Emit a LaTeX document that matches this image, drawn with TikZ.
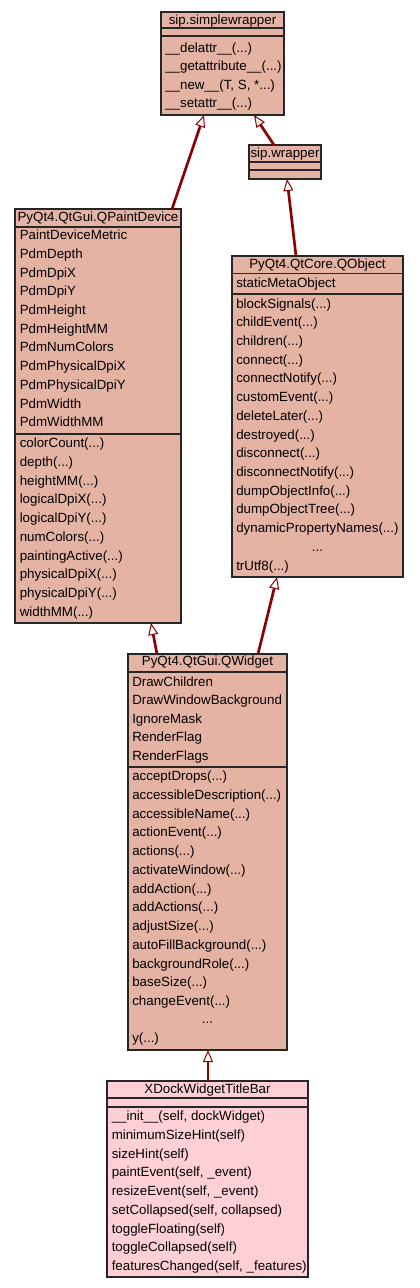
\documentclass[tikz,border=0pt]{standalone}
\usepackage{fontspec}
\setmainfont{Liberation Sans}
\usetikzlibrary{arrows.meta,positioning}
\newlength\px
\setlength\px{0.75pt}
\newcommand\more{...}
\definecolor{classfill}{RGB}{229,179,164}
\definecolor{mainfill}{RGB}{254,208,213}
\definecolor{inheritc}{RGB}{139,0,0}

\begin{document}
\begin{tikzpicture}[x=0.75pt, y=-0.75pt,
    classbox/.style={draw=black!85, line width=0.9pt, fill=classfill,
      inner sep=0pt, outer sep=0pt, anchor=north west},
    sepline/.style={draw=black!85, line width=0.9pt},
    classname/.style={inner sep=0pt, anchor=base},
    member/.style={inner sep=0pt, anchor=base west},
    inherits/.style={draw=inheritc, line width=2pt,
      -{Triangle[fill=white, line width=0.75pt, length=9pt, width=7.5pt]}}]
  \useasboundingbox (0,0) rectangle (419,1288);

  % sip.simplewrapper
  \node[classbox, minimum width=123\px, minimum height=103\px] (sw) at (161,12) {};
  \draw[sepline] (sw.west |- 0,28) -- (sw.east |- 0,28);
  \draw[sepline] (sw.west |- 0,36) -- (sw.east |- 0,36);
  \node[classname] (sw-t) at (sw.north |- 0,24.5) {sip.simplewrapper};
  \foreach \m [count=\i from 0] in {{\_\_delattr\_\_(\more)}, {\_\_getattribute\_\_(\more)},
      {\_\_new\_\_(T, S, *\more)}, {\_\_setattr\_\_(\more)}}
    \node[member] (sw-m\i) at (165,{52.4+18.5*\i}) {\m};

  % sip.wrapper
  \node[classbox, minimum width=72\px, minimum height=34\px] (sipw) at (249,145) {};
  \draw[sepline] (sipw.west |- 0,162) -- (sipw.east |- 0,162);
  \draw[sepline] (sipw.west |- 0,170) -- (sipw.east |- 0,170);
  \node[classname] (sipw-t) at (sipw.north |- 0,157.5) {sip.wrapper};

  % PyQt4.QtGui.QPaintDevice
  \node[classbox, minimum width=166\px, minimum height=414\px] (qpd) at (15,209) {};
  \draw[sepline] (qpd.west |- 0,227) -- (qpd.east |- 0,227);
  \draw[sepline] (qpd.west |- 0,434) -- (qpd.east |- 0,434);
  \node[classname] (qpd-t) at (qpd.north |- 0,221.5) {PyQt4.QtGui.QPaintDevice};
  \foreach \m [count=\i from 0] in {PaintDeviceMetric, PdmDepth, PdmDpiX, PdmDpiY,
      PdmHeight, PdmHeightMM, PdmNumColors, PdmPhysicalDpiX, PdmPhysicalDpiY,
      PdmWidth, PdmWidthMM}
    \node[member] (qpd-a\i) at (19.5,{239.7+18.7*\i}) {\m};
  \foreach \m [count=\i from 0] in {colorCount(\more), depth(\more), heightMM(\more),
      logicalDpiX(\more), logicalDpiY(\more), numColors(\more), paintingActive(\more),
      physicalDpiX(\more), physicalDpiY(\more), widthMM(\more)}
    \node[member] (qpd-m\i) at (19.5,{447.7+18.75*\i}) {\m};

  % PyQt4.QtCore.QObject
  \node[classbox, minimum width=171\px, minimum height=321\px] (qobj) at (232,256) {};
  \draw[sepline] (qobj.west |- 0,273.5) -- (qobj.east |- 0,273.5);
  \draw[sepline] (qobj.west |- 0,294) -- (qobj.east |- 0,294);
  \node[classname] (qobj-t) at (qobj.north |- 0,268.5) {PyQt4.QtCore.QObject};
  \node[member] (qobj-a0) at (236,287.4) {staticMetaObject};
  \foreach \m [count=\i from 0] in {blockSignals(\more), childEvent(\more), children(\more),
      connect(\more), connectNotify(\more), customEvent(\more), deleteLater(\more),
      destroyed(\more), disconnect(\more), disconnectNotify(\more), dumpObjectInfo(\more),
      dumpObjectTree(\more), dynamicPropertyNames(\more)}
    \node[member] (qobj-m\i) at (236,{308+18.72*\i}) {\m};
  \node[classname] (qobj-more) at (qobj.north |- 0,551.4) {\more};
  \node[member] (qobj-m14) at (236,570.4) {trUtf8(\more)};

  % PyQt4.QtGui.QWidget
  \node[classbox, minimum width=159\px, minimum height=396\px] (qwid) at (128,654) {};
  \draw[sepline] (qwid.west |- 0,672) -- (qwid.east |- 0,672);
  \draw[sepline] (qwid.west |- 0,767) -- (qwid.east |- 0,767);
  \node[classname] (qwid-t) at (qwid.north |- 0,665.5) {PyQt4.QtGui.QWidget};
  \foreach \m [count=\i from 0] in {DrawChildren, DrawWindowBackground, IgnoreMask,
      RenderFlag, RenderFlags}
    \node[member] (qwid-a\i) at (132,{686.4+18.5*\i}) {\m};
  \foreach \m [count=\i from 0] in {acceptDrops(\more), accessibleDescription(\more),
      accessibleName(\more), actionEvent(\more), actions(\more), activateWindow(\more),
      addAction(\more), addActions(\more), adjustSize(\more), autoFillBackground(\more),
      backgroundRole(\more), baseSize(\more), changeEvent(\more)}
    \node[member] (qwid-m\i) at (132,{780.7+18.75*\i}) {\m};
  \node[classname] (qwid-more) at (qwid.north |- 0,1023.5) {\more};
  \node[member] (qwid-m14) at (132,1042.2) {y(\more)};

  % XDockWidgetTitleBar
  \node[classbox, fill=mainfill, minimum width=201\px, minimum height=196\px] (xdock) at (107,1081) {};
  \draw[sepline] (xdock.west |- 0,1098) -- (xdock.east |- 0,1098);
  \draw[sepline] (xdock.west |- 0,1107) -- (xdock.east |- 0,1107);
  \node[classname] (xdock-t) at (xdock.north |- 0,1093.7) {XDockWidgetTitleBar};
  \foreach \m [count=\i from 0] in {{\_\_init\_\_(self, dockWidget)}, minimumSizeHint(self),
      sizeHint(self), {paintEvent(self, \_event)}, {resizeEvent(self, \_event)},
      {setCollapsed(self, collapsed)}, toggleFloating(self), toggleCollapsed(self),
      {featuresChanged(self, \_features)}}
    \node[member] (xdock-m\i) at (111.5,{1120.7+18.75*\i}) {\m};

  % inheritance
  \draw[inherits] ([xshift=157\px]qpd.north west) -- ([xshift=43\px]sw.south west);
  \draw[inherits] ([xshift=25\px]sipw.north west) -- ([xshift=93\px]sw.south west);
  \draw[inherits] ([xshift=64\px]qobj.north west) -- ([xshift=38\px]sipw.south west);
  \draw[inherits] ([xshift=29\px]qwid.north west) -- ([xshift=136\px]qpd.south west);
  \draw[inherits] ([xshift=130\px]qwid.north west) -- ([xshift=45\px]qobj.south west);
  \draw[inherits] ([xshift=101\px]xdock.north west) -- ([xshift=80\px]qwid.south west);
\end{tikzpicture}
\end{document}
